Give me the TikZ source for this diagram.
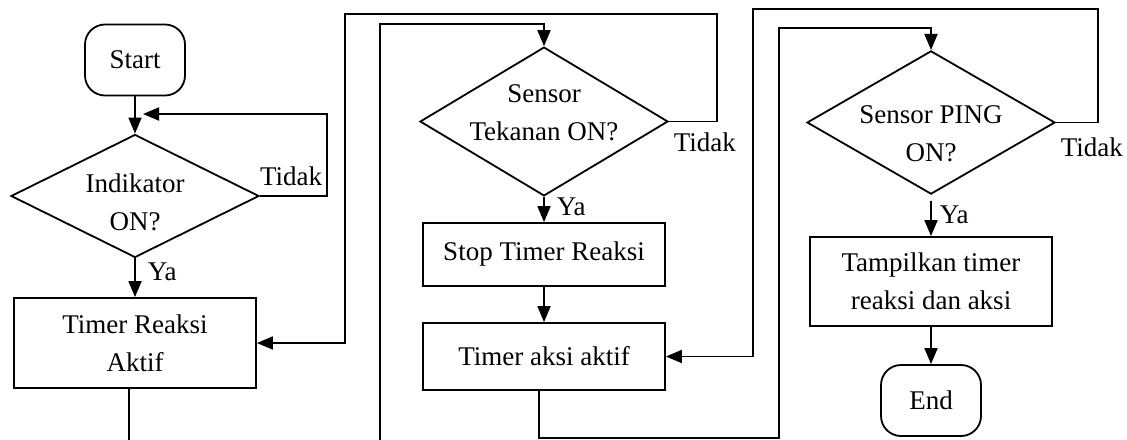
\documentclass[tikz,border=0pt]{standalone}
\usepackage{fontspec}
\setmainfont{Liberation Serif}
\usetikzlibrary{arrows.meta,shapes.geometric}
% two lines of text inside a decision, moved up or down by #1
\newcommand\dtext[2]{\raisebox{#1}[0pt][0pt]{\begin{tabular}{@{}c@{}}#2\end{tabular}}}

\begin{document}
\begin{tikzpicture}[x=0.5pt,y=-0.5pt,line width=0.9pt,>={Triangle[length=8pt,width=6.5pt]},
    font=\fontsize{13.5}{19}\selectfont]
    \tikzstyle{term}=[draw, rectangle, rounded corners=10pt, minimum width=50pt, minimum height=35.5pt, inner sep=0pt]
    \tikzstyle{proc}=[draw, rectangle, minimum width=121pt, inner sep=0pt, align=center]
    \tikzstyle{decision}=[draw, diamond, minimum width=124pt, minimum height=61.5pt, inner sep=0pt]
    \tikzstyle{lbl}=[inner sep=2pt]
    \tikzstyle{ya}=[inner sep=6pt, right]

    \useasboundingbox (0,0) rectangle (1127,439);
    \clip (0,0) rectangle (1127,439);

    \node[term]                         (start)   at (135,60)    {Start};
    \node[decision]                     (ind)     at (135,196)   {\dtext{-7.5pt}{Indikator\\ON?}};
    \node[proc, minimum height=45pt]    (reaksi)  at (135,343)   {Timer Reaksi\\Aktif};
    \node[decision]                     (tekanan) at (544,121.5) {\dtext{0pt}{Sensor\\Tekanan ON?}};
    \node[proc, minimum height=31.5pt]  (stop)    at (544,254.5) {Stop Timer Reaksi};
    \node[proc, minimum height=33.5pt]  (aksi)    at (544,356.5) {Timer aksi aktif};
    \node[decision]                     (ping)    at (931,122.5) {\dtext{-10pt}{Sensor PING\\ON?}};
    \node[proc, minimum height=44.5pt]  (tampil)  at (931,281.5) {Tampilkan timer\\reaksi dan aksi};
    \node[term]                         (end)     at (931,400.5) {End};

    \coordinate (back1) at (143,114);

    \path[->]
     (start)   edge (ind)
     (ind)     edge node[ya, pos=0.35] {Ya} (reaksi)
     (tekanan) edge node[ya, pos=0.4] {Ya} (stop)
     (stop)    edge (aksi)
     ([yshift=-3pt]ping.south) edge node[ya, inner sep=4pt, pos=0.4] {Ya} (tampil)
     (tampil)  edge (end)
     ;

    % loops back when the answer is Tidak
    \draw[->] (ind.east) -- (327,196) node[lbl, above left, yshift=2.5pt] {Tidak} |- (back1);
    \draw[->] (tekanan.east) node[lbl, below right, yshift=-3pt] {Tidak} -- ++(48,0) |- (345,14) |- (reaksi.east);
    \draw[->] (ping.east) node[lbl, below right, yshift=-5pt] {Tidak} -- ++(42,0) |- (753,9) |- (aksi.east);

    % long runs under the boxes to the next decision
    \draw[->] ([xshift=-3pt]reaksi.south) -- ++(0,80) -| (380,24) -| (tekanan.north);
    \draw[->] ([xshift=-2.5pt]aksi.south) -- ++(0,47) -| (779,28) -| (ping.north);
\end{tikzpicture}
\end{document}
